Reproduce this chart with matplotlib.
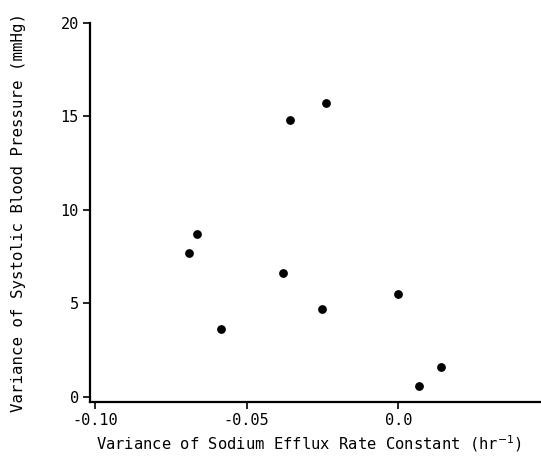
import matplotlib
matplotlib.use("Agg")
import matplotlib.pyplot as plt

# values
sodium_var = [-0.0689, -0.0665, -0.0584, -0.0381, -0.0356, -0.0253, -0.0237, 0.0000, 0.0068, 0.0140]
bp_var = [7.7, 8.7, 3.6, 6.6, 14.8, 4.7, 15.7, 5.5, 0.55, 1.6]

x_ticks = [-0.10, -0.05, 0.0]
x_tick_labels = ["-0.10", "-0.05", "0.0"]
y_ticks = [0, 5, 10, 15, 20]

plt.rcParams['font.family'] = ['DejaVu Sans Mono']
plt.rcParams['mathtext.fontset'] = 'dejavusans'

fig = plt.figure(figsize=(5.41, 4.66), dpi=100)
ax = fig.add_axes([0.166, 0.137, 0.834, 0.814])

ax.scatter(sodium_var, bp_var, s=28, color='black', zorder=3)

ax.set_xlim(-0.1017, 0.047)
ax.set_ylim(-0.3, 20)
ax.set_xticks(x_ticks)
ax.set_xticklabels(x_tick_labels)
ax.set_yticks(y_ticks)

for side in ['top', 'right']:
    ax.spines[side].set_visible(False)
for side in ['left', 'bottom']:
    ax.spines[side].set_linewidth(1.6)

ax.tick_params(direction='out', length=5, width=1.2, labelsize=11, pad=3)

ax.set_xlabel(r"Variance of Sodium Efflux Rate Constant (hr$^{-1}$)", fontsize=11.2)
ax.xaxis.set_label_coords(0.486, -0.082)
ax.set_ylabel("Variance of Systolic Blood Pressure (mmHg)", fontsize=11.3, labelpad=25)

fig.savefig("out.png", dpi=100)
